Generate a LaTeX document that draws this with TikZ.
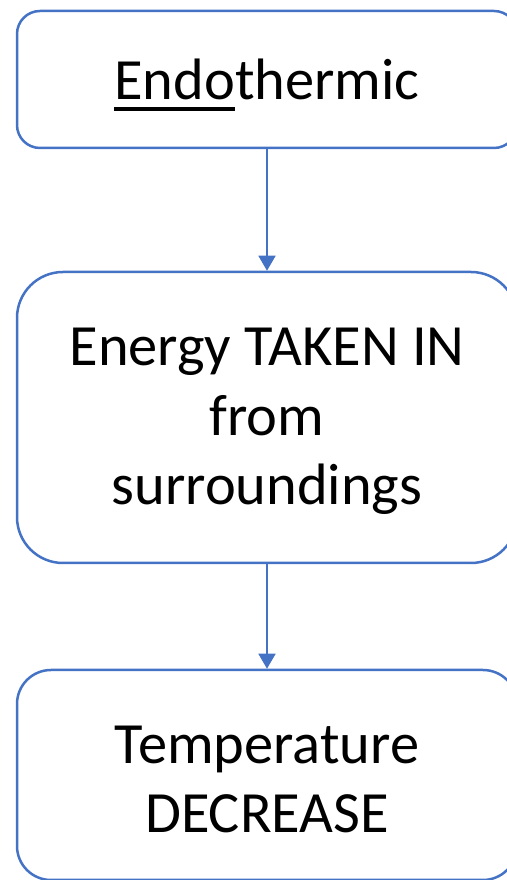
\documentclass[tikz,border=0pt]{standalone}
\usepackage{fontspec}
\setmainfont{Carlito}
\usetikzlibrary{arrows.meta}
\definecolor{officeblue}{HTML}{4472C4}
\newcommand\ulword[1]{\setbox0\hbox{#1}\rlap{\smash{\rule[-11pt]{\wd0}{3.5pt}}}\box0}
\tikzset{
  flowbox/.style={draw=officeblue, line width=2.5pt, fill=white, rectangle,
    minimum width=500pt, inner sep=0pt, align=center,
    font=\fontsize{58.4}{69.5}\selectfont},
  flowarrow/.style={draw=officeblue, line width=1.6pt,
    -{Triangle[width=17pt,length=15pt]}, shorten >=0pt}
}
\begin{document}
\begin{tikzpicture}[x=1pt,y=1pt]
\useasboundingbox (0,0) rectangle (506,880);
\node[flowbox, minimum height=137pt, rounded corners=23pt] (b1) at (267,800.5) {\ulword{Endo}thermic};
\node[flowbox, minimum height=291pt, rounded corners=46pt] (b2) at (267,462.5) {\rule{0pt}{46pt}Energy TAKEN IN\\from\\surroundings};
\node[flowbox, minimum height=210pt, rounded corners=34pt] (b3) at (267,105) {\rule{0pt}{46pt}Temperature\\DECREASE};
\draw[flowarrow] (b1.south) -- (b2.north);
\draw[flowarrow] (b2.south) -- (b3.north);
\end{tikzpicture}
\end{document}
